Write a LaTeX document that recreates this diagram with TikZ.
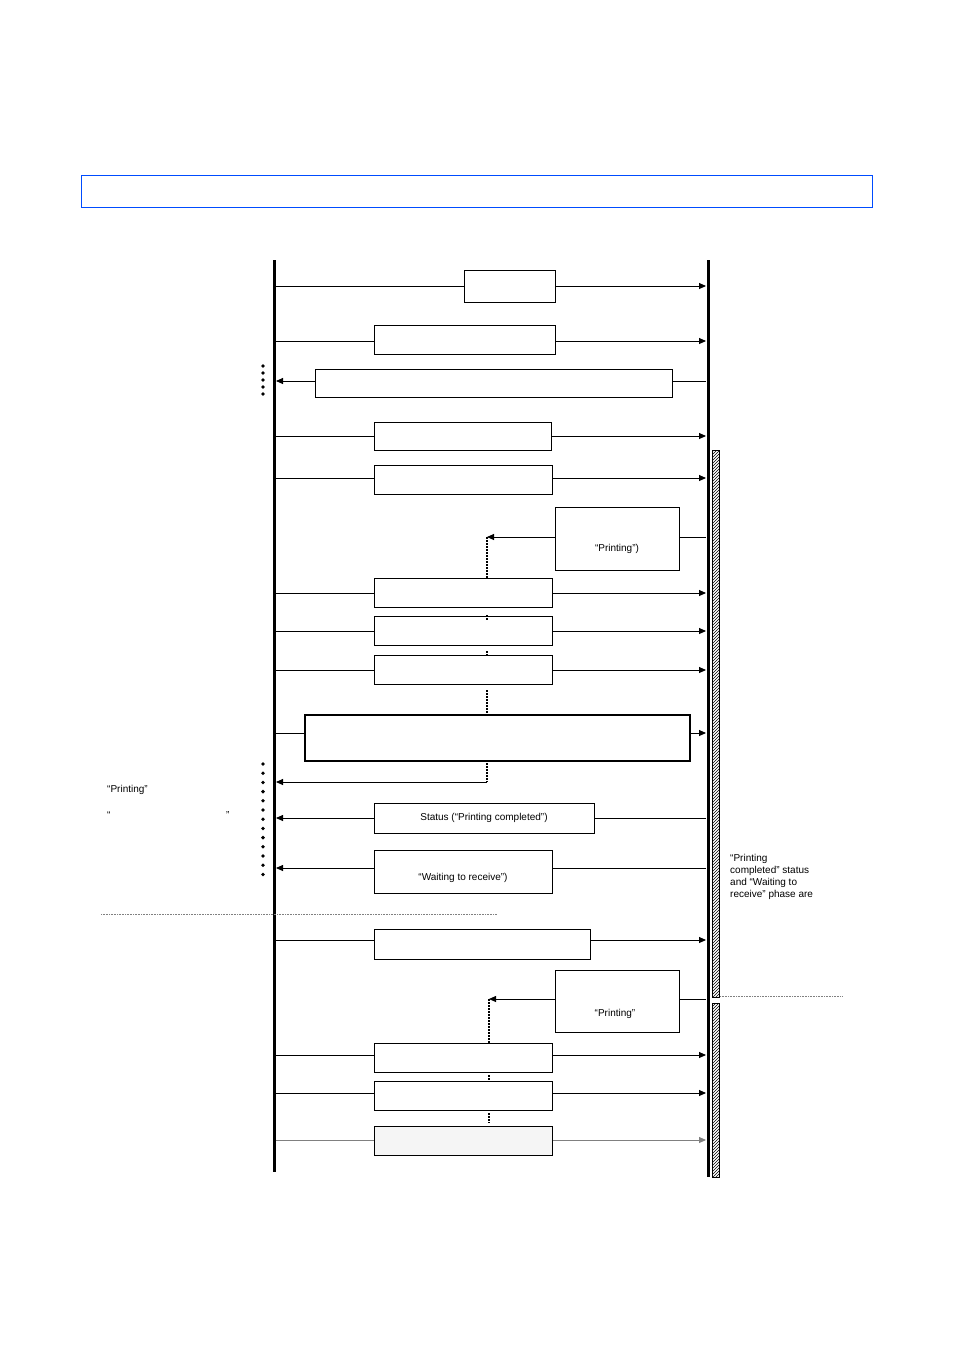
\documentclass[tikz,border=0pt]{standalone}
\usepackage{fontspec}
\setmainfont{Liberation Sans}
\usetikzlibrary{arrows.meta,patterns}
\begin{document}
\begin{tikzpicture}[x=1pt,y=-1pt,
 msg/.style={line width=0.9pt},
 arr/.style={msg,-{Triangle[length=7pt,width=6pt]}},
 mbox/.style={draw,line width=0.9pt,fill=white},
 vdot/.style={line width=1.2pt,dash pattern=on 1.5pt off 1.5pt},
 dotb/.style={circle,fill,inner sep=0pt,minimum size=3.8pt},
 lbl/.style={font=\fontsize{10}{12}\selectfont,inner sep=0pt}]
\useasboundingbox (0,0) rectangle (954,1350);
\draw[blue!70!cyan,line width=0.6pt] (81,175) rectangle (872,207);
% lifelines
\draw[line width=3pt] (274,260) coordinate (Lt) -- (274,1172) coordinate (Lb);
\draw[line width=3pt] (708,260) -- (708,1177);
\draw[pattern=north east lines,line width=0.6pt] (712,450) rectangle (719,997);
\draw[pattern=north east lines,line width=0.6pt] (712,1003) rectangle (719,1177);
% dots
\foreach \y in {366,373,380,387,394} \node[dotb] at (263,\y) {};
\foreach \i in {0,...,12} \node[dotb] at (263,764+9.2*\i) {};
% message 1
\draw[arr] (276,286) -- (706,286);
\node[mbox,minimum width=91pt,minimum height=32pt] (b1) at (509.5,286) {};
\draw[arr] (276,341) -- (706,341);
\node[mbox,minimum width=181pt,minimum height=29pt] (b2) at (464.5,339.5) {};
\draw[arr] (706,381) -- (276,381);
\node[mbox,minimum width=357pt,minimum height=28pt] (b3) at (493.5,383) {};
\draw[arr] (276,436) -- (706,436);
\node[mbox,minimum width=177pt,minimum height=28pt] (b4) at (462.5,436) {};
\draw[arr] (276,478) -- (706,478);
\node[mbox,minimum width=178pt,minimum height=29pt] (b5) at (463,479.5) {};
% printing status 1
\draw[arr] (706,537) -- (487,537) coordinate (p1);
\node[mbox,minimum width=124pt,minimum height=63pt] (b6) at (617,538.5) {};
\node[lbl] at (617,549) {“Printing”)};
\draw[vdot] (p1) -- (487,580);
\foreach \y/\w in {593/b7,631/b8,670/b9}{
 \draw[arr] (276,\y) -- (706,\y);
 \node[mbox,minimum width=178pt,minimum height=29pt] (\w) at (463,\y) {};}
\draw[vdot] (487,615) -- (487,620);
\draw[vdot] (487,651) -- (487,657);
\draw[vdot] (487,690) -- (487,713);
\draw[arr] (276,733) -- (706,733);
\node[mbox,line width=1.4pt,minimum width=385pt,minimum height=46pt] (b10) at (497.5,738) {};
\draw[vdot] (487,763) -- (487,782) coordinate (p2);
\draw[arr] (p2) -- (276,782);
\draw[arr] (706,818) -- (276,818);
\node[mbox,minimum width=220pt,minimum height=30pt,lbl] (b11) at (484,818) {Status (“Printing completed”)};
\draw[arr] (706,868) -- (276,868);
\node[mbox,minimum width=178pt,minimum height=43pt] (b12) at (463,871.5) {};
\node[lbl] at (463,878) {“Waiting to receive”)};
% left notes
\node[lbl,anchor=west] at (107,790) {“Printing”};
\node[lbl,anchor=west] at (107,815) {“};
\node[lbl,anchor=west] at (226,815) {”};
\draw[gray,line width=0.5pt,dash pattern=on 0.8pt off 0.8pt] (101,914) -- (497,914);
\node[lbl,anchor=north west,align=left] at (730,854) {“Printing\\completed” status\\and “Waiting to\\receive” phase are};
\draw[gray,line width=0.5pt,dash pattern=on 0.8pt off 0.8pt] (720,996) -- (843,996);
\draw[arr] (276,940) -- (706,940);
\node[mbox,minimum width=216pt,minimum height=30pt] (b13) at (482,944) {};
\draw[arr] (706,999) -- (489,999) coordinate (p3);
\node[mbox,minimum width=124pt,minimum height=62pt] (b14) at (617,1001) {};
\node[lbl] at (615,1014) {“Printing”};
\draw[vdot] (p3) -- (489,1043);
\foreach \y/\w in {1055/b15,1093/b16}{
 \draw[arr] (276,\y) -- (706,\y);
 \node[mbox,minimum width=178pt,minimum height=29pt] (\w) at (463,\y+3) {};}
\draw[vdot] (489,1075) -- (489,1080);
\draw[vdot] (489,1113) -- (489,1123);
\draw[arr,gray] (276,1140) -- (706,1140);
\node[draw,line width=0.6pt,fill=gray!8,minimum width=178pt,minimum height=29pt] (b17) at (463,1140.5) {};
\end{tikzpicture}
\end{document}
